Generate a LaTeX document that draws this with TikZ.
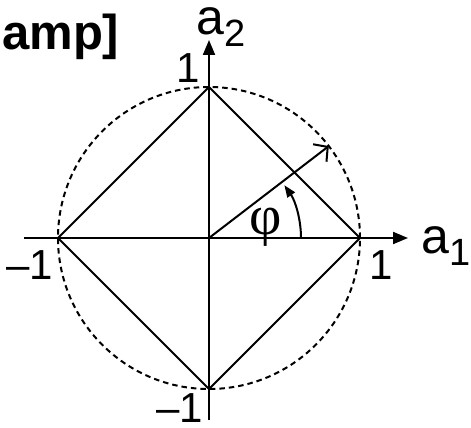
\documentclass[tikz,border=0pt]{standalone}
\usepackage{fontspec}
\setmainfont{Liberation Sans}
\newfontfamily\greekfont{Liberation Serif}
\usetikzlibrary{arrows.meta, positioning}

\tikzset{
  lbl/.style={inner sep=0pt, font=\fontsize{42}{42}\selectfont},
  axislbl/.style={inner sep=0pt, anchor=base west, font=\fontsize{50}{50}\selectfont},
}
\newcommand{\axsub}[1]{\raisebox{-12pt}{\fontsize{38}{38}\selectfont #1}}

\begin{document}
\begin{tikzpicture}[x=1pt, y=1pt, >={Triangle[length=15pt, width=12pt]}]
    \useasboundingbox (-209,-190) rectangle (262,238);
    % points
    \coordinate (O) at (0,0);
    \coordinate (E) at (151,0);
    \coordinate (N) at (0,151);
    \coordinate (W) at (-151,0);
    \coordinate (S) at (0,-151);
    \coordinate (P) at (37.5:151);
    \coordinate (X0) at (-185,0);
    \coordinate (X1) at (199,0);
    \coordinate (Y0) at (0,-182);
    \coordinate (Y1) at (0,198);

    % dashed circle
    \draw[dashed, dash pattern=on 5.5pt off 4pt, line width=2pt] (O) circle[radius=151];

    % axes
    \draw[->, line width=2pt] (X0) -- (X1);
    \draw[->, line width=2pt] (Y0) -- (Y1);

    % square
    \draw[line width=2pt] (E) -- (N) -- (W) -- (S) -- cycle;

    % ray and angle
    \draw[-{Straight Barb[length=10pt, width=22pt]}, line width=2pt] (O) -- (P);
    \draw[-{Triangle[length=12pt, width=9pt]}, line width=2pt] ([xshift=92pt]O) arc[start angle=0, end angle=35, radius=92];

    % labels
    \node[lbl, above left=4pt and 9pt of N] (n1) {1};
    \node[lbl, below right=12pt and 9pt of E] (e1) {1};
    \node[lbl, below left=12pt and 5pt of W] (w1) {–1};
    \node[lbl, below left=4pt and 6pt of S] (s1) {–1};
    \node[axislbl] (a1) at ([xshift=13pt, yshift=-16pt]X1) {a\axsub{1}};
    \node[axislbl] (a2) at ([xshift=-13pt, yshift=5pt]Y1) {a\axsub{2}};
    \node[inner sep=0pt, font=\greekfont\fontsize{56}{56}\selectfont] (phi) at (57,11) {φ};
    \node[anchor=base west, inner sep=0pt, font=\bfseries\fontsize{49}{49}\selectfont] (title) at (-207,188) {amp]};
\end{tikzpicture}
\end{document}
